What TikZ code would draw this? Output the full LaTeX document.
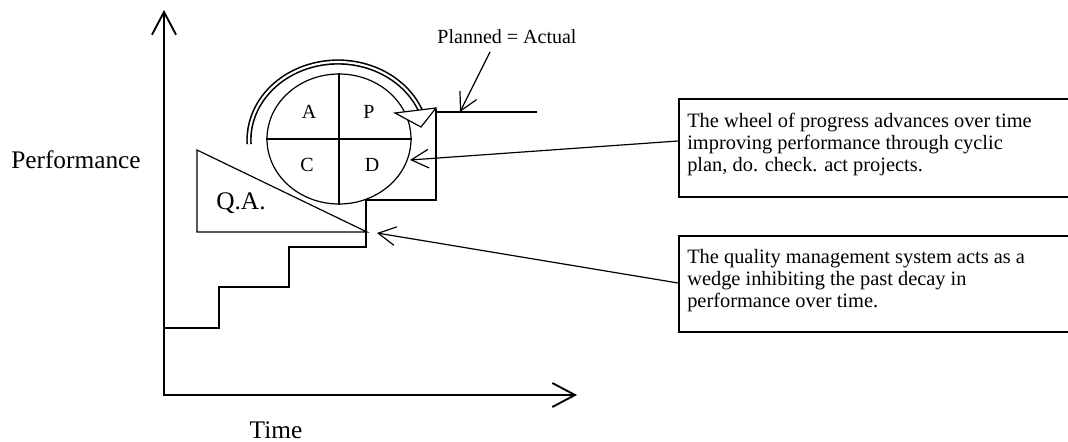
\documentclass[tikz,border=0pt]{standalone}
\usepackage{fontspec}
\setmainfont{Liberation Serif}
\usetikzlibrary{arrows.meta,shapes.geometric}
\begin{document}
\begin{tikzpicture}[x=0.75pt,y=-0.75pt,
  axisline/.style={line width=1.4pt,{Straight Barb[length=17pt,width=18pt,line width=1.4pt]}-{Straight Barb[length=17pt,width=18pt,line width=1.4pt]}},
  thinline/.style={line width=0.9pt},
  callout/.style={line width=0.9pt,-{Straight Barb[length=13pt,width=14pt,line width=0.9pt]}},
  boxframe/.style={draw,line width=1.3pt,minimum width=310pt,anchor=north west,inner sep=0},
  boxtext/.style={anchor=north west,inner sep=0,align=left,font=\fontsize{15.3}{16.5}\selectfont},
  letter/.style={font=\fontsize{15}{18}\selectfont,inner sep=0},
  biglabel/.style={font=\fontsize{19}{22}\selectfont,inner sep=0}
]
\useasboundingbox (0,0) rectangle (1068,442);

% axes
\coordinate (ytop) at (164,10);
\coordinate (origin) at (164,395);
\coordinate (xend) at (577,395);
\draw[axisline] (ytop) -- (origin) -- (xend);

% staircase
\coordinate (s0) at (164,328);
\coordinate (s1) at (436,109);
\draw[thinline] (s0) -- (219,328) -- (219,287) -- (289,287) -- (289,247) -- (366,247) -- (366,200) -- (436,200) -- (s1);
\coordinate (plA) at (436,112);
\coordinate (plB) at (537,112);
\draw[thinline] (plA) -- (plB);

% Q.A. wedge
\draw[thinline] (197,150) -- (197,232) -- (367,232) -- cycle;
\node[biglabel] (qa) at (241,203) {Q.A.};

% wheel
\node[draw,thinline,ellipse,minimum width=108pt,minimum height=97.5pt,inner sep=0] (wheel) at (339,139) {};
\draw[thinline] (wheel.west) -- (wheel.east);
\draw[thinline] (wheel.north) -- (wheel.south);
\node[letter] (A) at (309,112) {A};
\node[letter] (P) at (369,112) {P};
\node[letter] (C) at (307,165) {C};
\node[letter] (D) at (372,165) {D};

% rotating band arrow
\draw[line width=1.2pt,double distance=1.6pt] plot[domain=183:21,samples=80] ({338+89*cos(\x)},{140-78*sin(\x)});
\draw[thinline,fill=white] (395,113) -- (436,108) -- (421,127) -- cycle;

% Planned = Actual
\node[letter] (planned) at (507,37) {Planned = Actual};
\coordinate (pstart) at (490,52);
\coordinate (ptip) at (460,112);
\draw[callout] (pstart) -- (ptip);

% boxes (right edges lie beyond the picture)
\node[boxframe,minimum height=73.5pt] (box1) at (678,98) {};
\node[boxframe,minimum height=72pt] (box2) at (678,235) {};
\node[boxtext] (t1) at (687,113) {The wheel of progress advances over time\\improving performance through cyclic\\plan, do. check. act projects.};
\node[boxtext] (t2) at (687,249) {The quality management system acts as a\\wedge inhibiting the past decay in\\performance over time.};

\coordinate (dstart) at (678,141);
\coordinate (dtip) at (410,160);
\draw[callout] (dstart) -- (dtip);
\coordinate (qstart) at (678,283);
\coordinate (qtip) at (377,233);
\draw[callout] (qstart) -- (qtip);

% axis labels
\node[biglabel] (perf) at (76,160) {Performance};
\node[biglabel] (time) at (276,430) {Time};
\end{tikzpicture}
\end{document}
